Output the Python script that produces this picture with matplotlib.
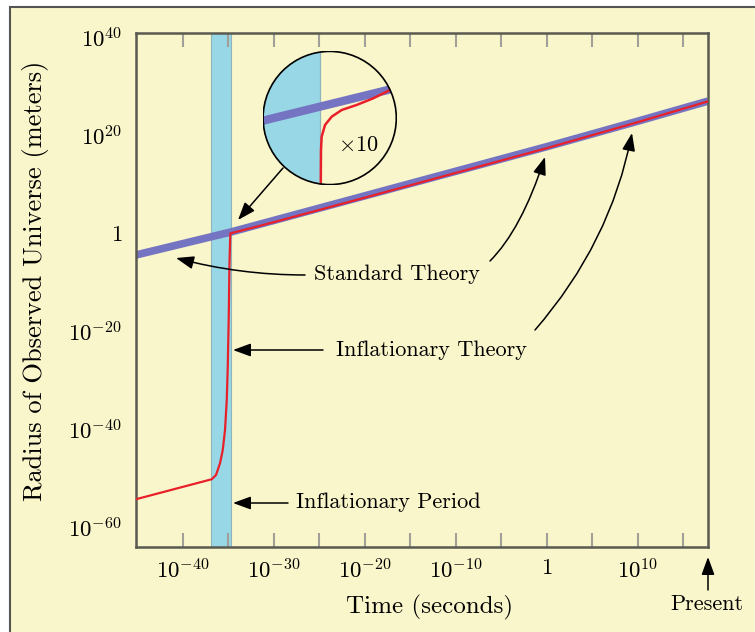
import numpy as np
import matplotlib
matplotlib.use("Agg")
import matplotlib.pyplot as plt
from matplotlib.patches import Circle, Rectangle
from matplotlib.ticker import NullFormatter

plt.rcParams['font.family'] = 'cmr10'
plt.rcParams['mathtext.fontset'] = 'cm'
plt.rcParams['axes.formatter.use_mathtext'] = True

# ---------------- data (log10 values) ----------------
std_logt = [-45.17, -34.7, 0.0, 10.0, 17.73]
std_logr = [-4.5, 0.2, 17.6, 22.8, 26.9]

inf_logt = [-45.17, -36.84, -36.37, -35.93, -35.63, -35.38, -35.19, -35.08,
            -34.97, -34.9, -34.8, -30.0, -20.0, 0.0, 10.0, 17.73]
inf_logr = [-54.35, -50.27, -49.4, -47.0, -44.3, -40.2, -34.1, -27.3,
            -17.1, -7.0, -0.1, 2.2, 7.2, 17.3, 22.6, 26.85]

band_logt = [-36.92, -34.76]

xtick_exp = [-40, -30, -20, -10, 0, 10]
xtick_labels = [r'$10^{-40}$', r'$10^{-30}$', r'$10^{-20}$', r'$10^{-10}$', r'$1$', r'$10^{10}$']
xminor_exp = [-35, -25, -15, -5, 5, 15]
ytick_exp = [40, 20, 0, -20, -40, -60]
ytick_labels = [r'$10^{40}$', r'$10^{20}$', r'$1$', r'$10^{-20}$', r'$10^{-40}$', r'$10^{-60}$']

# inset (magnified x10) local units
inset_std_u = [-0.1, 1.1]
inset_std_v = [0.455, 0.75]
inset_inf_u = [0.433, 0.435, 0.44, 0.465, 0.515, 0.59, 0.70, 0.825, 0.95, 1.05]
inset_inf_v = [-0.05, 0.26, 0.36, 0.448, 0.51, 0.56, 0.597, 0.647, 0.709, 0.74]
inset_band_u = [0.0, 0.428]

BG = '#FAF6CB'
CYAN = '#98D7E5'
BLUE = '#7474C2'
RED = '#E8202A'
SPINE = '#5A5A50'

W, H = 755, 632
fig = plt.figure(figsize=(W / 100, H / 100), dpi=100, facecolor='white')
fig.patches.append(Rectangle((10 / W, -0.05), 1.1, 1 - 7 / H + 0.05,
                             transform=fig.transFigure, facecolor=BG,
                             edgecolor='#555555', lw=1.5, zorder=-10))

ax = fig.add_axes([136 / W, 1 - 547 / H, 572 / W, 514 / H], zorder=1)
ax.set_facecolor(BG)
ax.set_xscale('log')
ax.set_yscale('log')
ax.set_xlim(10 ** -45.17, 10 ** 17.73)
ax.set_ylim(10 ** -64.1, 10 ** 40.8)

ax.axvspan(10 ** band_logt[0], 10 ** band_logt[1], facecolor=CYAN,
           edgecolor='#8FB4BC', lw=0.8, zorder=1)
ax.plot(10.0 ** np.array(std_logt), 10.0 ** np.array(std_logr), color=BLUE,
        lw=5.5, solid_capstyle='butt', zorder=2)
ax.plot(10.0 ** np.array(inf_logt), 10.0 ** np.array(inf_logr), color=RED,
        lw=1.6, zorder=3)

ax.set_xticks(10.0 ** np.array(xtick_exp), xtick_labels)
ax.set_xticks(10.0 ** np.array(xminor_exp), minor=True)
ax.xaxis.set_minor_formatter(NullFormatter())
ax.set_yticks(10.0 ** np.array(ytick_exp), ytick_labels)
ax.set_yticks([], minor=True)
ax.tick_params(axis='x', which='both', direction='in', top=True, length=10,
               width=1.5, color='#A0A098', labelsize=16.5, pad=8)
ax.tick_params(axis='y', which='both', length=0, labelsize=16.5, pad=10)
for s in ax.spines.values():
    s.set_color(SPINE)
    s.set_linewidth(1.8)

fig.text(36 / W, 1 - 281 / H, 'Radius of Observed Universe (meters)',
         rotation=90, ha='center', va='center', fontsize=19)
fig.text(430 / W, 1 - 607 / H, 'Time (seconds)', ha='center', va='center',
         fontsize=18)


def P(px, py):
    return (px / W, 1 - py / H)


def arrow(tip, tail, cs='arc3,rad=0'):
    ax.annotate('', xy=P(*tip), xytext=P(*tail), xycoords='figure fraction',
                textcoords='figure fraction', annotation_clip=False,
                arrowprops=dict(arrowstyle='-|>,head_length=0.6,head_width=0.22',
                                mutation_scale=18, color='black', lw=1.1,
                                shrinkA=0, shrinkB=0, connectionstyle=cs),
                zorder=6)


TFS = 16
fig.text(*P(397, 274), 'Standard Theory', ha='center', va='center', fontsize=TFS)
fig.text(*P(431, 350), 'Inflationary Theory', ha='center', va='center', fontsize=TFS)
fig.text(*P(388, 502), 'Inflationary Period', ha='center', va='center', fontsize=TFS)
fig.text(*P(707, 604), 'Present', ha='center', va='center', fontsize=TFS)

arrow((176, 258), (305, 275), 'angle3,angleA=0,angleB=-15')
arrow((545, 157), (490, 261), 'angle3,angleA=45,angleB=72')
arrow((233, 350), (323, 350))
arrow((632, 133), (535, 330), 'angle3,angleA=49,angleB=79')
arrow((233, 503), (288, 503))
arrow((708, 557), (708, 590))
arrow((238, 220), (283, 168))

# ---------------- inset ----------------
iax = fig.add_axes([262.7 / W, 1 - 185 / H, 134 / W, 134 / H], zorder=5)
iax.set_xlim(0, 1)
iax.set_ylim(0, 1)
iax.axis('off')
clip = Circle((0.5, 0.5), 0.5, transform=iax.transAxes)
bgc = Circle((0.5, 0.5), 0.5, transform=iax.transAxes, facecolor=BG,
             edgecolor='none', zorder=0)
iax.add_patch(bgc)
band = iax.axvspan(inset_band_u[0], inset_band_u[1], facecolor=CYAN,
                   edgecolor='none', zorder=1)
band.set_clip_path(clip)
vl = iax.axvline(inset_band_u[1], color='#8FB4BC', lw=0.9, zorder=1.5)
vl.set_clip_path(clip)
l1, = iax.plot(inset_std_u, inset_std_v, color=BLUE, lw=6, zorder=2,
               solid_capstyle='butt')
l1.set_clip_path(clip)
l2, = iax.plot(inset_inf_u, inset_inf_v, color=RED, lw=1.8, zorder=3)
l2.set_clip_path(clip)
iax.text(0.713, 0.30, r'$\times 10$', ha='center', va='center', fontsize=16,
         zorder=4)
edge = Circle((0.5, 0.5), 0.497, transform=iax.transAxes, facecolor='none',
              edgecolor='black', lw=1.2, zorder=5)
iax.add_patch(edge)

fig.savefig('out.png', dpi=100, facecolor='white')
